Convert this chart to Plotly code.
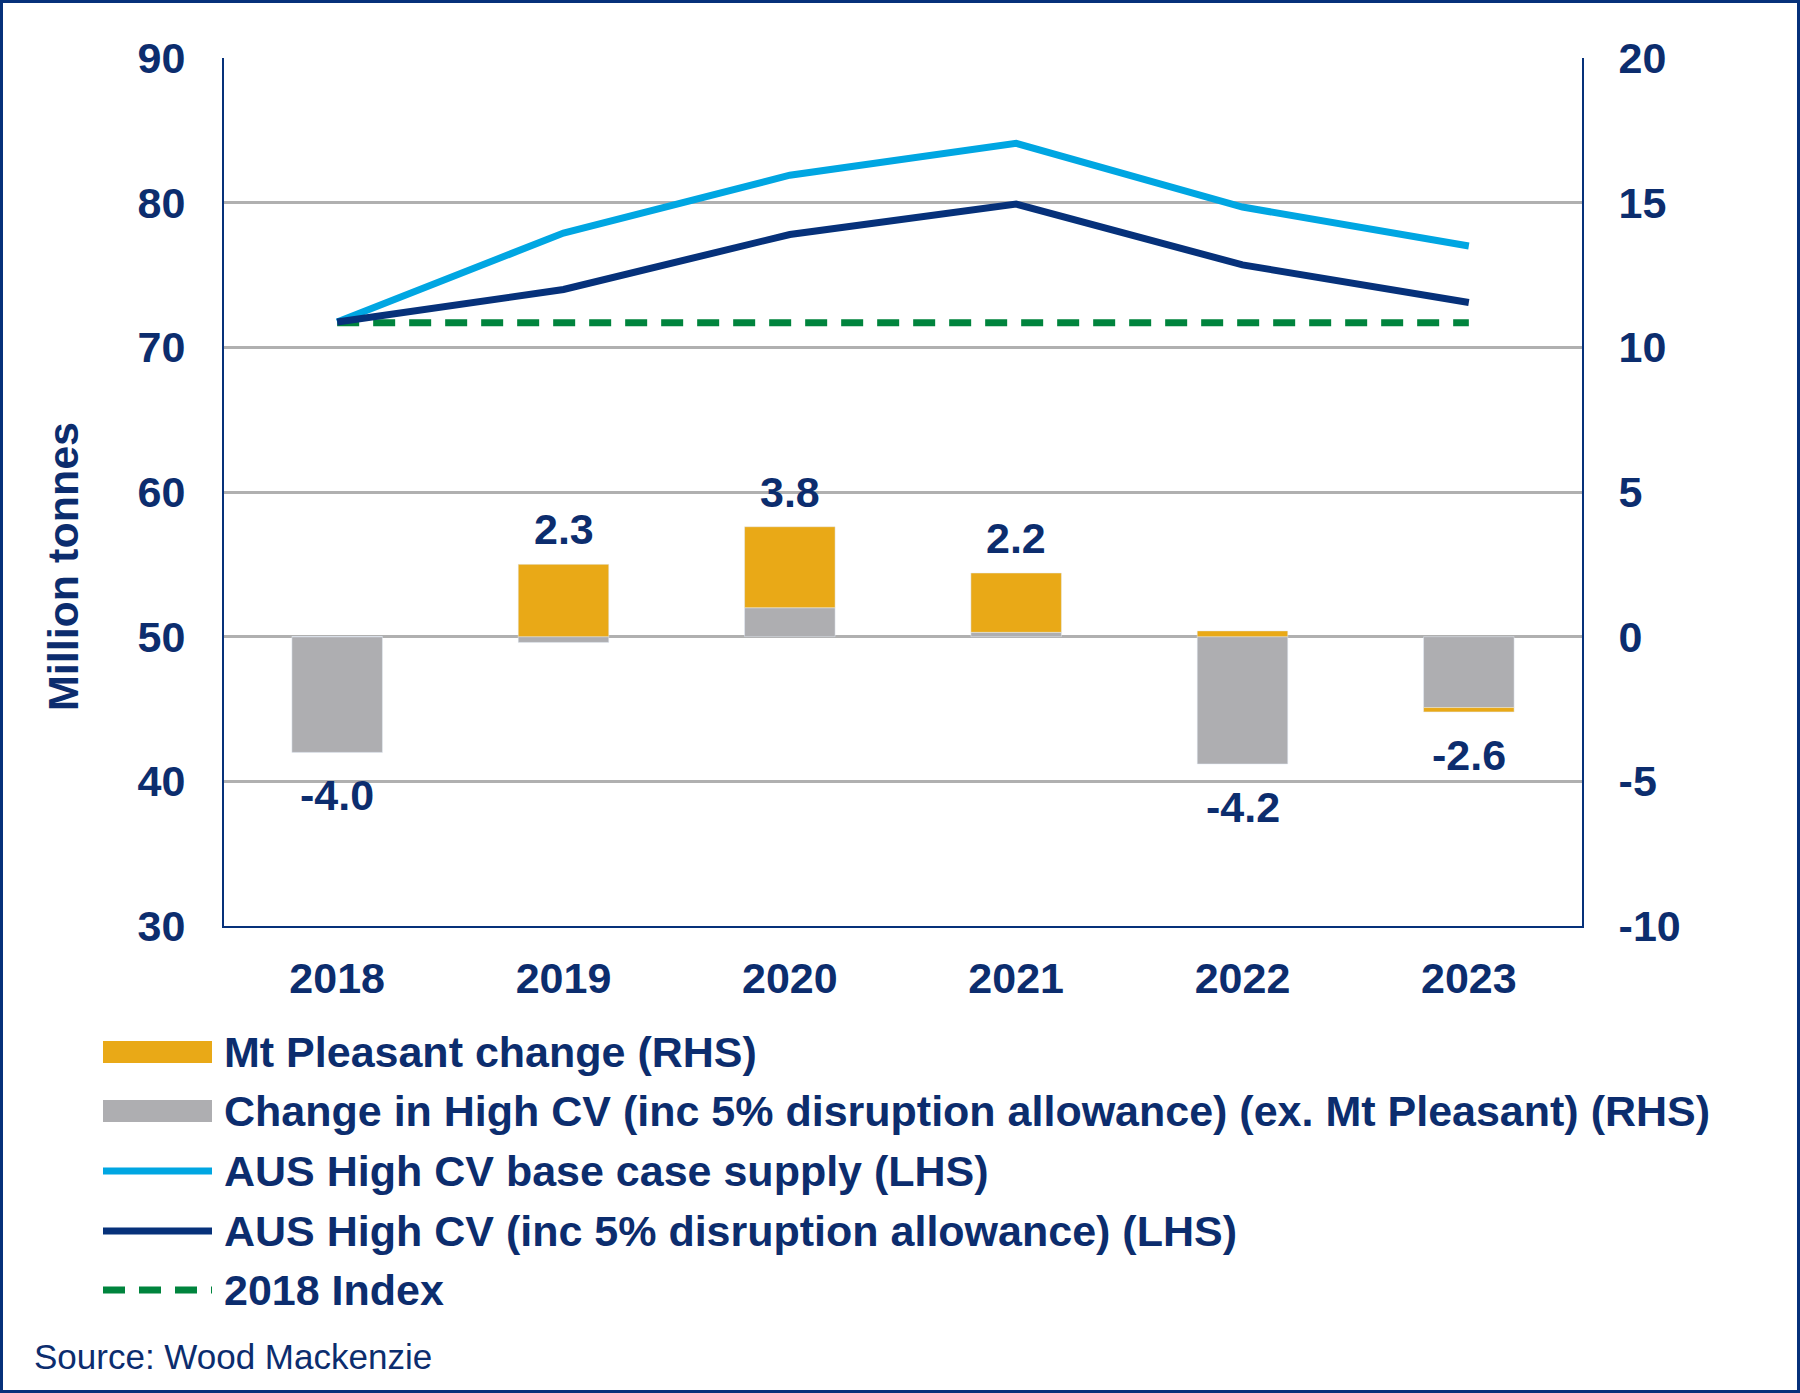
import plotly.graph_objects as go

# ---------------- data ----------------
years = ["2018", "2019", "2020", "2021", "2022", "2023"]
mt_pleasant = [0.0, 2.5, 2.8, 2.05, 0.2, -0.15]
change_high_cv = [-4.0, -0.2, 1.0, 0.15, -4.4, -2.45]
total_labels = ["-4.0", "2.3", "3.8", "2.2", "-4.2", "-2.6"]
base_case = [71.75, 77.9, 81.9, 84.1, 79.7, 77.0]
disruption = [71.75, 74.0, 77.8, 79.9, 75.7, 73.1]
index_2018 = [71.7, 71.7, 71.7, 71.7, 71.7, 71.7]

left_ticks = [30, 40, 50, 60, 70, 80, 90]
right_ticks = [-10, -5, 0, 5, 10, 15, 20]

legend_names = [
    "Mt Pleasant change (RHS)",
    "Change in High CV (inc 5% disruption allowance) (ex. Mt Pleasant) (RHS)",
    "AUS High CV base case supply (LHS)",
    "AUS High CV (inc 5% disruption allowance) (LHS)",
    "2018 Index",
]
y_title = "Million tonnes"
source_text = "Source: Wood Mackenzie"

# ---------------- style ----------------
NAVY_TXT = "#0C2D6E"
GOLD = "#E9A917"
GREY = "#AEAEB1"
LBLUE = "#00A6E2"
NAVY = "#06317A"
GREEN = "#00843D"
GRID = "#B0B0B0"
FONT = "Liberation Sans, Arial, sans-serif"
FS = 43

Wfig, Hfig = 1800, 1393
L, R, T, B = 224, 218, 58, 467
PW, PH = Wfig - L - R, Hfig - T - B


def px_x(x):
    return (x - L) / PW


def px_y(y):
    return (Hfig - B - y) / PH


fig = go.Figure()

fig.add_trace(go.Bar(x=years, y=change_high_cv, yaxis="y2", marker_color=GREY,
                     name=legend_names[1], width=0.4, showlegend=False))
fig.add_trace(go.Bar(x=years, y=mt_pleasant, yaxis="y2", marker_color=GOLD,
                     name=legend_names[0], width=0.4, showlegend=False))
fig.add_trace(go.Scatter(x=years, y=index_2018, mode="lines", name=legend_names[4],
                         line=dict(color=GREEN, width=7, dash="22px,14px"), showlegend=False))
fig.add_trace(go.Scatter(x=years, y=base_case, mode="lines", name=legend_names[2],
                         line=dict(color=LBLUE, width=7), showlegend=False))
fig.add_trace(go.Scatter(x=years, y=disruption, mode="lines", name=legend_names[3],
                         line=dict(color=NAVY, width=7), showlegend=False))

# value labels at end of stacked bars
annotations = []
for i, yr in enumerate(years):
    vals = [mt_pleasant[i], change_high_cv[i]]
    pos = sum(v for v in vals if v > 0)
    neg = sum(v for v in vals if v < 0)
    tot = float(total_labels[i])
    up = tot >= 0
    annotations.append(dict(x=i, y=pos if up else neg, xref="x", yref="y2",
                            text="<b>%s</b>" % total_labels[i],
                            showarrow=False, yanchor="bottom" if up else "top",
                            yshift=9 if up else -17,
                            font=dict(family=FONT, size=FS, color=NAVY_TXT)))

# y-axis title (placed like the reference, slightly below plot centre)
annotations.append(dict(x=px_x(63), y=px_y(567), xref="paper", yref="paper",
                        xanchor="center", yanchor="middle", showarrow=False,
                        textangle=-90, text="<b>%s</b>" % y_title,
                        font=dict(family=FONT, size=FS, color=NAVY_TXT)))

# manual legend
shapes = []
leg_rows = [1052, 1111, 1171, 1231, 1290]
sx0, sx1, tx = 103, 212, 222
styles = [("rect", GOLD), ("rect", GREY), ("line", LBLUE), ("line", NAVY), ("dash", GREEN)]
for (kind, col), yc, name in zip(styles, leg_rows, legend_names):
    if kind == "rect":
        shapes.append(dict(type="rect", xref="paper", yref="paper",
                           x0=px_x(sx0), x1=px_x(sx1), y0=px_y(yc - 11), y1=px_y(yc + 11),
                           fillcolor=col, line=dict(width=0)))
    else:
        shapes.append(dict(type="line", xref="paper", yref="paper",
                           x0=px_x(sx0), x1=px_x(sx1), y0=px_y(yc), y1=px_y(yc),
                           line=dict(color=col, width=7,
                                     dash="22px,14px" if kind == "dash" else "solid")))
    annotations.append(dict(x=px_x(tx), y=px_y(yc), xref="paper", yref="paper",
                            xanchor="left", yanchor="middle", showarrow=False,
                            text="<b>%s</b>" % name,
                            font=dict(family=FONT, size=FS, color=NAVY_TXT)))

annotations.append(dict(x=px_x(32), y=px_y(1356), xref="paper", yref="paper",
                        xanchor="left", yanchor="middle", showarrow=False,
                        text=source_text,
                        font=dict(family=FONT, size=35, color=NAVY_TXT)))

# outer border
shapes.append(dict(type="rect", xref="paper", yref="paper",
                   x0=px_x(1.5), x1=px_x(Wfig - 1.5), y0=px_y(Hfig - 1.5), y1=px_y(1.5),
                   line=dict(color=NAVY, width=3), fillcolor="rgba(0,0,0,0)", layer="below"))

fig.update_layout(
    width=Wfig, height=Hfig,
    margin=dict(l=L, r=R, t=T, b=B),
    paper_bgcolor="white", plot_bgcolor="white",
    barmode="relative",
    showlegend=False,
    font=dict(family=FONT, size=FS, color=NAVY_TXT),
    xaxis=dict(type="category", range=[-0.5, len(years) - 0.5],
               showline=True, linecolor=NAVY, linewidth=2,
               ticks="", showgrid=False,
               tickfont=dict(family=FONT, size=FS, color=NAVY_TXT, weight="bold"),
               ticklabelstandoff=13),
    yaxis=dict(range=[30, 90], tickvals=left_ticks, showline=True, linecolor=NAVY, linewidth=2,
               showgrid=True, gridcolor=GRID, gridwidth=2.5, zeroline=False, ticks="",
               tickfont=dict(family=FONT, size=FS, color=NAVY_TXT, weight="bold"),
               ticklabelstandoff=28),
    yaxis2=dict(range=[-10, 20], tickvals=right_ticks, ticktext=[str(v) for v in right_ticks],
                overlaying="y", side="right",
                showline=True, linecolor=NAVY, linewidth=2, showgrid=False, zeroline=False,
                ticks="",
                tickfont=dict(family=FONT, size=FS, color=NAVY_TXT, weight="bold"),
                ticklabelstandoff=26),
    annotations=annotations,
    shapes=shapes,
)

fig.write_html("out.html", config={"displayModeBar": False},
               post_script="document.body.style.margin='0';")
